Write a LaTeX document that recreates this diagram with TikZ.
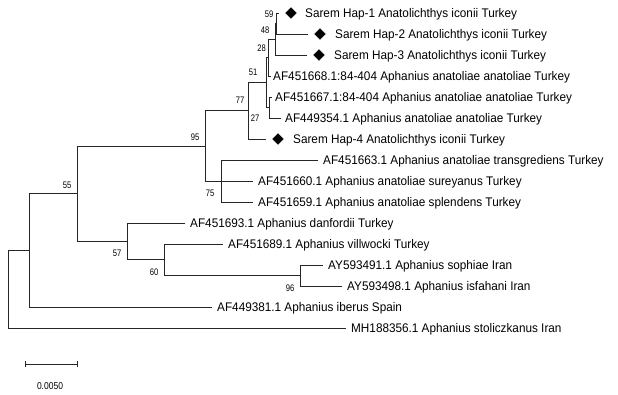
\documentclass[tikz,border=0pt]{standalone}
\usepackage{fontspec}
\setmainfont[FakeStretch=0.94]{Liberation Sans}
\newfontfamily\bsfont[FakeStretch=0.8]{Liberation Sans}
\newfontfamily\scfont[FakeStretch=0.85]{Liberation Sans}
\usetikzlibrary{shapes.geometric}
\begin{document}
\begin{tikzpicture}[x=1pt,y=-1pt,
  br/.style={draw=black!85,line width=0.8pt},
  taxon/.style={anchor=west,inner sep=0pt,text height=8.9pt,text depth=0pt,font=\fontsize{12.5}{14}\selectfont},
  boot/.style={inner sep=0pt,font=\bsfont\fontsize{9.5}{10}\selectfont},
  hap/.style={diamond,fill=black,draw=black,inner sep=0pt,minimum size=11pt}]
\useasboundingbox[fill=white] (0,0) rectangle (618,394);
% internal nodes
\coordinate (n59) at (276,23.5);
\coordinate (n48) at (275,39.25);
\coordinate (n28) at (268,57.6);
\coordinate (n27) at (269,107.5);
\coordinate (n51) at (266,82.5);
\coordinate (n77) at (248,110.8);
\coordinate (n75) at (221,181);
\coordinate (n95) at (205,145.9);
\coordinate (n96) at (300,275.5);
\coordinate (n60) at (164,259.8);
\coordinate (n57) at (127,241.4);
\coordinate (n55) at (77,193.6);
\coordinate (r1) at (29,250.3);
\coordinate (root) at (8,250.3);
% tip ends
\coordinate (e1) at (279,13);
\coordinate (e2) at (308,34);
\coordinate (e3) at (307,55);
\coordinate (e4) at (270.5,76);
\coordinate (e5) at (271.5,97);
\coordinate (e6) at (281,118);
\coordinate (e7) at (266,139);
\coordinate (e8) at (318,160);
\coordinate (e9) at (253,181);
\coordinate (e10) at (253,202);
\coordinate (e11) at (185,223);
\coordinate (e12) at (223,244);
\coordinate (e13) at (323,265);
\coordinate (e14) at (342,286);
\coordinate (e15) at (212,307);
\coordinate (e16) at (346,328);
% diamonds
\node[hap] (d1) at (291,13) {};
\node[hap] (d2) at (320,34) {};
\node[hap] (d3) at (319,55) {};
\node[hap] (d4) at (278,139) {};
% taxon labels
\node[taxon] (t1) at (305,13) {Sarem Hap-1 Anatolichthys iconii Turkey};
\node[taxon] (t2) at (335,34) {Sarem Hap-2 Anatolichthys iconii Turkey};
\node[taxon] (t3) at (334,55) {Sarem Hap-3 Anatolichthys iconii Turkey};
\node[taxon] (t4) at (273,76) {AF451668.1:84-404 Aphanius anatoliae anatoliae Turkey};
\node[taxon] (t5) at (275,97) {AF451667.1:84-404 Aphanius anatoliae anatoliae Turkey};
\node[taxon] (t6) at (285,118) {AF449354.1 Aphanius anatoliae anatoliae Turkey};
\node[taxon] (t7) at (293,139) {Sarem Hap-4 Anatolichthys iconii Turkey};
\node[taxon] (t8) at (323,160) {AF451663.1 Aphanius anatoliae transgrediens Turkey};
\node[taxon] (t9) at (258,181) {AF451660.1 Aphanius anatoliae sureyanus Turkey};
\node[taxon] (t10) at (258,202) {AF451659.1 Aphanius anatoliae splendens Turkey};
\node[taxon] (t11) at (190,223) {AF451693.1 Aphanius danfordii Turkey};
\node[taxon] (t12) at (228,244) {AF451689.1 Aphanius villwocki Turkey};
\node[taxon] (t13) at (328,265) {AY593491.1 Aphanius sophiae Iran};
\node[taxon] (t14) at (347,286) {AY593498.1 Aphanius isfahani Iran};
\node[taxon] (t15) at (217,307) {AF449381.1 Aphanius iberus Spain};
\node[taxon] (t16) at (351,328) {MH188356.1 Aphanius stoliczkanus Iran};
% branches
\draw[br] (root) |- (r1);
\draw[br] (root) |- (e16);
\draw[br] (r1) |- (n55);
\draw[br] (r1) |- (e15);
\draw[br] (n55) |- (n95);
\draw[br] (n55) |- (n57);
\draw[br] (n57) |- (e11);
\draw[br] (n57) |- (n60);
\draw[br] (n60) |- (e12);
\draw[br] (n60) |- (n96);
\draw[br] (n96) |- (e13);
\draw[br] (n96) |- (e14);
\draw[br] (n95) |- (n77);
\draw[br] (n95) |- (n75);
\draw[br] (n75) |- (e8);
\draw[br] (n75) |- (e9);
\draw[br] (n75) |- (e10);
\draw[br] (n77) |- (n51);
\draw[br] (n77) |- (e7);
\draw[br] (n51) |- (n28);
\draw[br] (n51) |- (n27);
\draw[br] (n27) |- (e5);
\draw[br] (n27) |- (e6);
\draw[br] (n28) |- (n48);
\draw[br] (n28) |- (e4);
\draw[br] (n48) |- (n59);
\draw[br] (n48) |- (e3);
\draw[br] (n59) |- (e1);
\draw[br] (n59) |- (e2);
% bootstrap values
\node[boot] (b59) at (269,14) {59};
\node[boot] (b48) at (265,30) {48};
\node[boot] (b28) at (261.5,48.3) {28};
\node[boot] (b51) at (253,72.5) {51};
\node[boot] (b27) at (255,118.5) {27};
\node[boot] (b77) at (240,100) {77};
\node[boot] (b95) at (195,137) {95};
\node[boot] (b75) at (210,193) {75};
\node[boot] (b55) at (67,185) {55};
\node[boot] (b57) at (117,253.3) {57};
\node[boot] (b60) at (154,272.3) {60};
\node[boot] (b96) at (290,288.3) {96};
% scale bar
\coordinate (s1) at (25,364);
\coordinate (s2) at (77,364);
\draw[br] (s1) -- (s2);
\draw[br] ([yshift=-3pt]s1) -- ([yshift=3pt]s1);
\draw[br] ([yshift=-3pt]s2) -- ([yshift=3pt]s2);
\node[inner sep=0pt,font=\scfont\fontsize{10}{11}\selectfont] (sl) at (50,386) {0.0050};
\end{tikzpicture}
\end{document}
